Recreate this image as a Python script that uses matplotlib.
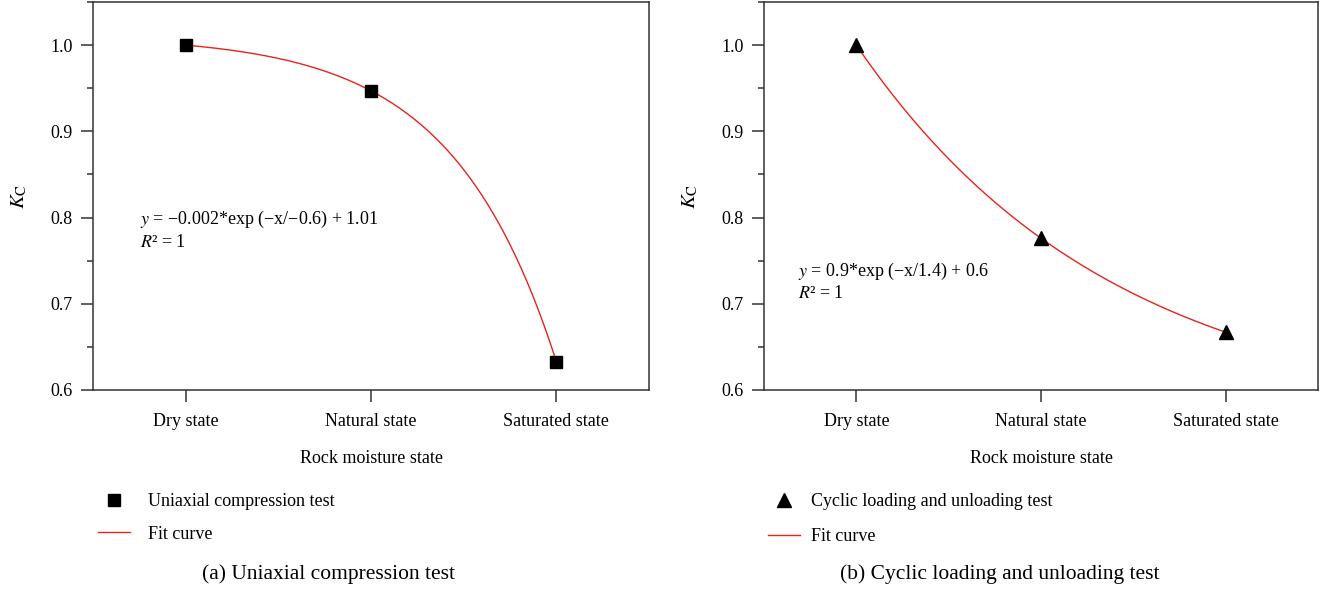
import numpy as np
import matplotlib
matplotlib.use("Agg")
import matplotlib.pyplot as plt
from matplotlib.ticker import MultipleLocator
from matplotlib.lines import Line2D

plt.rcParams['font.family'] = ['Liberation Serif', 'DejaVu Serif']
plt.rcParams['mathtext.fontset'] = 'stix'
plt.rcParams['font.size'] = 13

# moisture states and K_C values for the two tests
states = ["Dry state", "Natural state", "Saturated state"]
kc_uniaxial = [1.0, 0.947, 0.633]
kc_cyclic = [1.0, 0.776, 0.667]

eq_uniaxial = "$y$ = \u22120.002*exp (\u2212x/\u22120.6) + 1.01"
eq_cyclic = "$y$ = 0.9*exp (\u2212x/1.4) + 0.6"

RED = "#e8231c"
SPINE = "#333333"


def exp_through(y):
    # y = y0 + A * r**x passing through three equally spaced points x = 1, 2, 3
    y1, y2, y3 = y
    r = (y3 - y2) / (y2 - y1)
    A = (y2 - y1) / (r ** 2 - r)
    y0 = y1 - A * r
    xs = np.linspace(1, 3, 200)
    return xs, y0 + A * r ** xs


def draw_panel(ax, kc, marker, msize, eq, eq_xy):
    x = np.arange(1, len(states) + 1)
    xs, ys = exp_through(kc)
    ax.plot(xs, ys, color=RED, lw=1.0, zorder=2)
    ax.plot(x, kc, ls="none", marker=marker, ms=msize, color="black", zorder=3)

    ax.set_xlim(0.5, 3.5)
    ax.set_ylim(0.6, 1.05)
    ax.set_xticks(x)
    ax.set_xticklabels(states)
    ax.yaxis.set_major_locator(MultipleLocator(0.1))
    ax.yaxis.set_minor_locator(MultipleLocator(0.05))
    ax.yaxis.set_major_formatter(plt.FuncFormatter(lambda v, p: f"{v:.1f}"))
    for s in ax.spines.values():
        s.set_color(SPINE)
        s.set_linewidth(1.1)
    ax.tick_params(axis="both", which="major", length=8.6, width=1.1,
                   color=SPINE, labelsize=13)
    ax.tick_params(axis="y", which="major", pad=6)
    ax.tick_params(axis="x", which="major", pad=8)
    ax.tick_params(axis="y", which="minor", length=4.3, width=1.1, color=SPINE)
    ax.set_xlabel("Rock moisture state", fontsize=13, labelpad=14.5)
    ax.set_ylabel(r"$K_\mathrm{C}$", fontsize=15, labelpad=15)

    ex, ey1, ey2 = eq_xy
    ax.text(ex, ey1, eq, fontsize=13, va="center", ha="left")
    ax.text(ex, ey2, "$R$\u00b2 = 1", fontsize=13, va="center", ha="left")


fig = plt.figure(figsize=(13.27, 5.9), dpi=100)
ax1 = fig.add_axes([93 / 1327, 1 - 390 / 590, 556 / 1327, 388 / 590])
ax2 = fig.add_axes([764 / 1327, 1 - 390 / 590, 554 / 1327, 388 / 590])

draw_panel(ax1, kc_uniaxial, "s", 8.6, eq_uniaxial, (0.754, 0.798, 0.771))
draw_panel(ax2, kc_cyclic, "^", 9.4, eq_cyclic, (0.684, 0.7376, 0.712))

h1 = [Line2D([], [], ls="none", marker="s", ms=8.4, color="black"),
      Line2D([], [], color=RED, lw=1.0)]
fig.legend(h1, ["Uniaxial compression test", "Fit curve"],
           loc="upper left", bbox_to_anchor=(98 / 1327, 1 - 493 / 590),
           frameon=False, fontsize=13, borderpad=0, borderaxespad=0,
           handlelength=1.75, handletextpad=1.0, labelspacing=0.86)

h2 = [Line2D([], [], ls="none", marker="^", ms=9.4, color="black"),
      Line2D([], [], color=RED, lw=1.0)]
fig.legend(h2, ["Cyclic loading and unloading test", "Fit curve"],
           loc="upper left", bbox_to_anchor=(768 / 1327, 1 - 493 / 590),
           frameon=False, fontsize=13, borderpad=0, borderaxespad=0,
           handlelength=1.75, handletextpad=0.65, labelspacing=1.02)

fig.text(328 / 1327, 1 - 574 / 590, "(a) Uniaxial compression test",
         fontsize=15.5, ha="center", va="center")
fig.text(1000 / 1327, 1 - 574 / 590, "(b) Cyclic loading and unloading test",
         fontsize=15.5, ha="center", va="center")

fig.savefig("out.png", dpi=100)
